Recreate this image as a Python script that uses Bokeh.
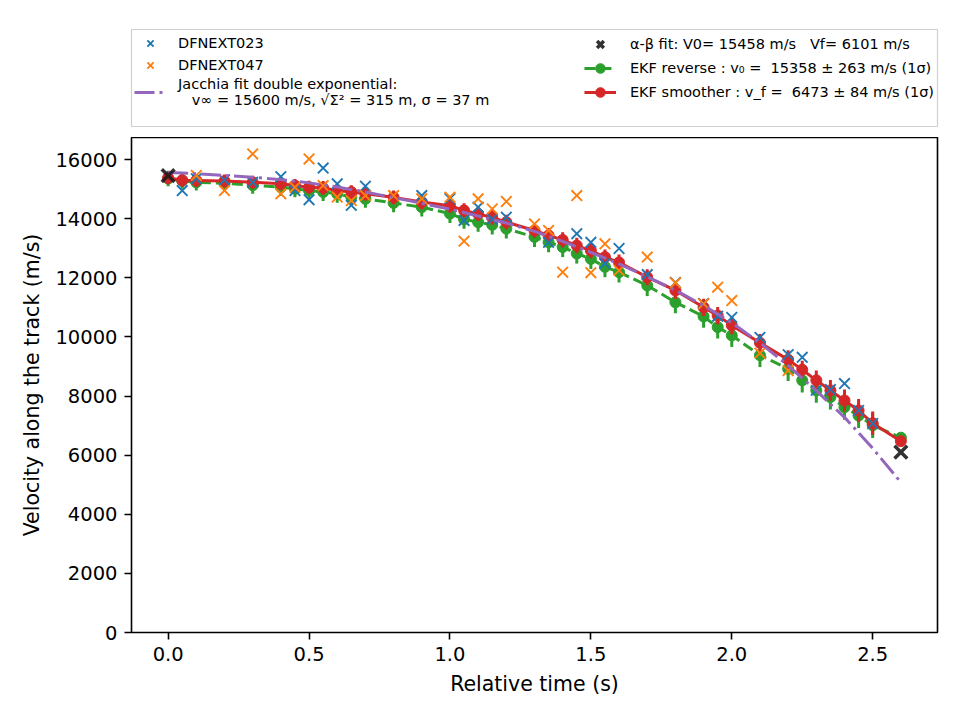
from bokeh.plotting import figure
from bokeh.models import ColumnDataSource, Legend, LegendItem, FixedTicker, PrintfTickFormatter, Range1d
from bokeh.layouts import column
from bokeh.embed import file_html
from bokeh.resources import INLINE

# ---- observations: velocity along the track per camera ----
t_023 = [0.05, 0.10, 0.20, 0.30, 0.40, 0.45, 0.50, 0.55, 0.60, 0.65, 0.70, 0.90, 1.00, 1.05,
         1.10, 1.15, 1.20, 1.35, 1.45, 1.50, 1.55, 1.60, 1.70, 1.80, 1.90, 1.95, 2.00, 2.10,
         2.20, 2.25, 2.30, 2.35, 2.40, 2.45, 2.50]
v_023 = [14950, 15350, 15310, 15230, 15420, 14950, 14640, 15710, 15180, 14450, 15100, 14780, 14680, 13940,
         14390, 13980, 14050, 13200, 13490, 13200, 12480, 12990, 12110, 11840, 11130, 10700, 10660, 9980,
         9400, 9310, 8190, 8220, 8420, 7510, 7070]

t_047 = [0.10, 0.20, 0.30, 0.40, 0.45, 0.50, 0.55, 0.60, 0.65, 0.70, 0.80, 0.90, 1.00, 1.05,
         1.10, 1.15, 1.20, 1.30, 1.35, 1.40, 1.45, 1.50, 1.55, 1.60, 1.70, 1.80, 1.90, 1.95,
         2.00, 2.10, 2.20]
v_047 = [15460, 14950, 16190, 14840, 15060, 16020, 15120, 14730, 14610, 14780, 14780, 14670, 14725, 13240,
         14670, 14330, 14580, 13820, 13600, 12190, 14780, 12170, 13150, 12250, 12700, 11830, 11120, 11680,
         11230, 9450, 8860]

# ---- Jacchia double exponential fit ----
t_jac = [0.0, 0.1, 0.2, 0.3, 0.4, 0.5, 0.6, 0.7, 0.8, 0.9, 1.0, 1.1, 1.2, 1.3,
         1.4, 1.5, 1.6, 1.7, 1.8, 1.9, 2.0, 2.1, 2.2, 2.3, 2.4, 2.5, 2.6]
v_jac = [15560, 15520, 15460, 15400, 15320, 15210, 15070, 14900, 14710, 14520, 14320, 14090, 13850, 13570,
         13230, 12860, 12470, 12030, 11580, 11060, 10480, 9800, 9030, 8180, 7280, 6230, 5080]

# ---- alpha-beta fit end points ----
t_ab = [0.0, 2.6]
v_ab = [15458, 6101]

# ---- EKF estimates ----
t_ekf = [0.0, 0.05, 0.1, 0.2, 0.3, 0.4, 0.45, 0.5, 0.55, 0.6, 0.65, 0.7, 0.8, 0.9, 1.0, 1.05,
         1.1, 1.15, 1.2, 1.3, 1.35, 1.4, 1.45, 1.5, 1.55, 1.6, 1.7, 1.8, 1.9, 1.95, 2.0, 2.1,
         2.2, 2.25, 2.3, 2.35, 2.4, 2.45, 2.5, 2.6]
v_rev = [15358, 15280, 15230, 15200, 15130, 15060, 15010, 14950, 14900, 14840, 14730, 14670, 14530, 14390,
         14170, 13980, 13880, 13790, 13660, 13380, 13200, 13040, 12820, 12640, 12370, 12190, 11740, 11170,
         10690, 10330, 10050, 9380, 8920, 8530, 8190, 7960, 7620, 7340, 7010, 6590]
e_rev = [263, 270, 275, 280, 285, 290, 290, 295, 300, 300, 305, 305, 310, 315,
         320, 320, 325, 325, 330, 335, 335, 340, 340, 345, 350, 350, 360, 370,
         380, 385, 390, 400, 410, 415, 420, 420, 425, 425, 430, 150]
v_smo = [15380, 15300, 15290, 15270, 15230, 15180, 15120, 15060, 15040, 14950, 14900, 14840, 14720, 14560,
         14440, 14280, 14160, 14040, 13880, 13600, 13430, 13280, 13090, 12920, 12700, 12520, 12020, 11570,
         11000, 10720, 10390, 9800, 9230, 8890, 8530, 8190, 7850, 7510, 7080, 6473]
e_smo = [220, 220, 220, 220, 220, 220, 220, 220, 230, 230, 230, 230, 230, 240,
         240, 240, 240, 250, 250, 250, 250, 260, 260, 260, 260, 270, 270, 280,
         290, 290, 300, 300, 320, 300, 330, 350, 370, 390, 400, 84]

x_ticks = [0.0, 0.5, 1.0, 1.5, 2.0, 2.5]
y_ticks = [0, 2000, 4000, 6000, 8000, 10000, 12000, 14000, 16000]

BLUE, ORANGE, GREEN, RED, PURPLE, BLACK = "#1f77b4", "#ff7f0e", "#2ca02c", "#d62728", "#9467bd", "#1c1c1c"
FONT = "DejaVu Sans"

obs023 = ColumnDataSource(dict(t=t_023, v=v_023))
obs047 = ColumnDataSource(dict(t=t_047, v=v_047))
jac = ColumnDataSource(dict(t=t_jac, v=v_jac))
ab = ColumnDataSource(dict(t=t_ab, v=v_ab))
rev = ColumnDataSource(dict(t=t_ekf, v=v_rev,
                            lo=[v - e for v, e in zip(v_rev, e_rev)],
                            hi=[v + e for v, e in zip(v_rev, e_rev)]))
smo = ColumnDataSource(dict(t=t_ekf, v=v_smo,
                            lo=[v - e for v, e in zip(v_smo, e_smo)],
                            hi=[v + e for v, e in zip(v_smo, e_smo)]))

X_STYLE = dict(marker="x", size=15, line_width=1.9)
AB_STYLE = dict(marker="x", size=18, line_width=3.5, line_color=BLACK, line_alpha=0.9)
DOT_SIZE = 11
JAC_STYLE = dict(line_color=PURPLE, line_width=3, line_dash="20 5 3 5")


def draw_all(fig):
    """Draw every series on fig; returns the renderers used for legend keys."""
    r = {}
    # reverse EKF (dashed, with error bars)
    fig.segment(x0="t", y0="lo", x1="t", y1="hi", source=rev, line_color=GREEN, line_width=3)
    r["rev_l"] = fig.line("t", "v", source=rev, line_color=GREEN, line_width=3, line_dash="11 5")
    r["rev_m"] = fig.scatter("t", "v", source=rev, marker="circle", size=DOT_SIZE,
                             fill_color=GREEN, line_color=GREEN)
    # EKF smoother
    fig.segment(x0="t", y0="lo", x1="t", y1="hi", source=smo, line_color=RED, line_width=3)
    r["smo_l"] = fig.line("t", "v", source=smo, line_color=RED, line_width=3)
    r["smo_m"] = fig.scatter("t", "v", source=smo, marker="circle", size=DOT_SIZE,
                             fill_color=RED, line_color=RED)
    # camera observations
    r["023"] = fig.scatter("t", "v", source=obs023, line_color=BLUE, **X_STYLE)
    r["047"] = fig.scatter("t", "v", source=obs047, line_color=ORANGE, **X_STYLE)
    # Jacchia fit
    r["jac"] = fig.line("t", "v", source=jac, **JAC_STYLE)
    # alpha-beta fit
    r["ab"] = fig.scatter("t", "v", source=ab, **AB_STYLE)
    return r


# ---- main axes ----
p = figure(width=960, height=583, output_backend="svg", toolbar_location=None, title=None,
           x_range=Range1d(-0.13, 2.73), y_range=Range1d(0, 16745),
           min_border_left=131, min_border_right=23, min_border_top=0, min_border_bottom=88)
p.xgrid.visible = False
p.ygrid.visible = False
p.outline_line_color = "black"
p.outline_line_width = 1.6
draw_all(p)

p.xaxis.ticker = FixedTicker(ticks=x_ticks)
p.xaxis.formatter = PrintfTickFormatter(format="%.1f")
p.yaxis.ticker = FixedTicker(ticks=y_ticks)
p.xaxis.axis_label = "Relative time (s)"
p.yaxis.axis_label = "Velocity along the track (m/s)"
for ax in (p.xaxis, p.yaxis):
    ax.axis_line_color = None
    ax.major_tick_in = 0
    ax.major_tick_out = 7
    ax.major_tick_line_width = 1.6
    ax.major_tick_line_color = "black"
    ax.minor_tick_in = 0
    ax.minor_tick_out = 0
    ax.major_label_text_font = FONT
    ax.major_label_text_font_size = "19.5px"
    ax.major_label_text_color = "black"
    ax.major_label_standoff = 7
    ax.axis_label_text_font = FONT
    ax.axis_label_text_font_size = "20.5px"
    ax.axis_label_text_font_style = "normal"
    ax.axis_label_text_color = "black"
p.yaxis.axis_label_standoff = 8
p.xaxis.axis_label_standoff = 8

# ---- legend panel: same series, viewed outside their data extent so only the keys show ----
lf = figure(width=960, height=137, output_backend="svg", toolbar_location=None, title=None,
            x_axis_type=None, y_axis_type=None,
            x_range=Range1d(-2, -1), y_range=Range1d(-2, -1),
            min_border_left=131, min_border_right=23, min_border_top=29, min_border_bottom=11)
lf.outline_line_color = "#d0d0d0"
lf.outline_line_width = 1.2
keys = draw_all(lf)

common = dict(border_line_color=None, background_fill_alpha=0, padding=0, spacing=0,
              label_text_font=FONT, label_text_font_size="14.5px", label_text_color="black")

left = Legend(items=[
    LegendItem(label="DFNEXT023", renderers=[keys["023"]]),
    LegendItem(label="DFNEXT047", renderers=[keys["047"]]),
    LegendItem(label="Jacchia fit double exponential:\n   v∞ = 15600 m/s, √Σ² = 315 m, σ = 37 m",
               renderers=[keys["jac"]]),
], location="top_left", margin=3, glyph_width=32, glyph_height=22,
    label_height=22, label_standoff=12, **common)

right = Legend(items=[
    LegendItem(label="α-β fit: V0= 15458 m/s   Vf= 6101 m/s", renderers=[keys["ab"]]),
    LegendItem(label="EKF reverse : v₀ =  15358 ± 263 m/s (1σ)", renderers=[keys["rev_l"], keys["rev_m"]]),
    LegendItem(label="EKF smoother : v_f =  6473 ± 84 m/s (1σ)", renderers=[keys["smo_l"], keys["smo_m"]]),
], location="top_right", margin=3, glyph_width=32, glyph_height=24,
    label_height=24, label_standoff=14, **common)

lf.add_layout(left)
lf.add_layout(right)

layout = column(lf, p)
open("out.html", "w").write(file_html(layout, INLINE))
